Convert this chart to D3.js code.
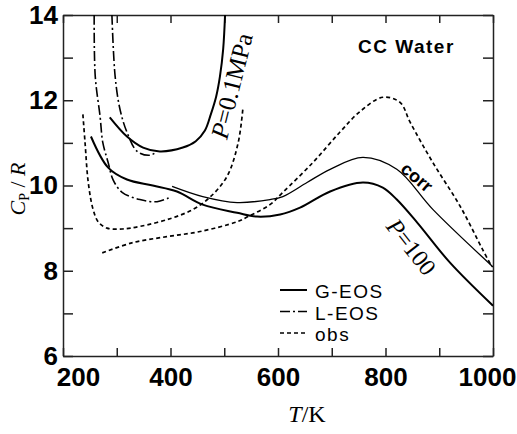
<!DOCTYPE html>
<html>
<head>
  <meta charset="utf-8">
  <title>CC Water Cp/R</title>
  <style>
    body { margin: 0; background: #fff; }
    svg { display: block; }
    .tick text { font-family: 'Liberation Sans', Arial, sans-serif; font-weight: bold; font-size: 26px; fill: #000; }
    .tick line, .domain { stroke: #222; stroke-width: 1.5px; }
    .serif { font-family: 'Liberation Serif', 'Times New Roman', serif; fill: #000; }
    .sans { font-family: 'Liberation Sans', Arial, sans-serif; fill: #000; }
  </style>
  <script src="https://cdn.jsdelivr.net/npm/d3@7"></script>
</head>
<body>
<svg id="chart" width="517" height="434"></svg>
<script>
// axis ticks
var tLabels = [200, 400, 600, 800, 1000];
var cpLabels = [6, 8, 10, 12, 14];

// G-EOS, P = 0.1 MPa
var gEos01T  = [287, 319, 349, 380, 423, 447, 464, 475, 485, 492, 498, 501.5];
var gEos01Cp = [11.6, 11.15, 10.89, 10.8, 10.89, 11.04, 11.29, 11.67, 12.09, 12.56, 13.2, 14.0];
// G-EOS, P = 100 MPa
var gEos100T  = [252, 284, 319, 367, 412, 460, 524, 561, 604, 641, 697, 758, 795, 821, 859, 920, 1000];
var gEos100Cp = [11.15, 10.42, 10.14, 10.0, 9.86, 9.55, 9.36, 9.27, 9.32, 9.48, 9.86, 10.07, 9.95, 9.67, 9.13, 8.19, 7.18];
// corrected G-EOS, P = 100
var corrT  = [403, 460, 524, 585, 609, 654, 697, 758, 821, 888, 1000];
var corrCp = [9.98, 9.74, 9.6, 9.67, 9.74, 10.07, 10.38, 10.66, 10.38, 9.44, 8.09];
// L-EOS
var lEos01T  = [291, 297, 306, 319, 338, 362, 375];
var lEos01Cp = [14.0, 12.56, 11.79, 11.25, 10.8, 10.71, 10.8];
var lEos100T  = [258, 260, 269, 274, 284, 293, 310, 343, 375, 399];
var lEos100Cp = [14.0, 12.56, 11.62, 11.01, 10.54, 10.14, 9.84, 9.67, 9.62, 9.72];
// observed
var obs01T  = [237, 241, 247, 256, 266, 282, 310, 343, 399, 442, 473, 505, 526, 535];
var obs01Cp = [11.67, 11.01, 10.07, 9.44, 9.14, 9.0, 8.98, 9.04, 9.22, 9.44, 9.72, 10.21, 11.01, 11.85];
var obs100T  = [273, 330, 393, 455, 524, 544, 585, 609, 665, 715, 753, 795, 827, 846, 888, 939, 981, 998];
var obs100Cp = [8.42, 8.66, 8.8, 8.92, 9.15, 9.27, 9.55, 9.84, 10.54, 11.25, 11.74, 12.07, 11.95, 11.48, 10.54, 9.51, 8.49, 8.09];

var legendNames = ['G-EOS', 'L-EOS', 'obs'];

var svg = d3.select('#chart');
var pLeft = 63, pRight = 493, pTop = 15, pBottom = 356;

var x = d3.scaleLinear().domain([200, 1000]).range([pLeft, pRight]);
var y = d3.scaleLinear().domain([6, 14]).range([pBottom, pTop]);

var minorT = d3.range(200, 1001, 100);
var minorCp = d3.range(6, 14.5, 1);

// axes, ticks pointing in
var xb = svg.append('g').attr('transform', 'translate(0,' + pBottom + ')')
  .call(d3.axisBottom(x).tickValues(minorT).tickSize(-8).tickSizeOuter(0).tickPadding(12)
    .tickFormat(function (d) { return tLabels.indexOf(d) >= 0 ? d : ''; }));
xb.selectAll('.tick text').attr('dx', function (d) { return d == 200 ? 15 : d == 1000 ? -6 : 0; });

svg.append('g').attr('transform', 'translate(0,' + pTop + ')')
  .call(d3.axisTop(x).tickValues(minorT).tickSize(-8).tickSizeOuter(0).tickFormat(''));

svg.append('g').attr('transform', 'translate(' + pLeft + ',0)')
  .call(d3.axisLeft(y).tickValues(minorCp).tickSize(-10).tickSizeOuter(0).tickPadding(5)
    .tickFormat(function (d) { return cpLabels.indexOf(d) >= 0 ? d : ''; }));

svg.append('g').attr('transform', 'translate(' + pRight + ',0)')
  .call(d3.axisRight(y).tickValues(minorCp).tickSize(-10).tickSizeOuter(0).tickFormat(''));

svg.selectAll('.domain').attr('fill', 'none');

svg.append('clipPath').attr('id', 'clip')
  .append('rect').attr('x', pLeft).attr('y', pTop).attr('width', pRight - pLeft).attr('height', pBottom - pTop);

var line = d3.line()
  .x(function (d) { return x(d[0]); })
  .y(function (d) { return y(d[1]); })
  .curve(d3.curveCatmullRom.alpha(0.5));

function pts(t, c) { return t.map(function (v, i) { return [v, c[i]]; }); }

var styles = {
  g: { w: 2.0, dash: null },
  corr: { w: 1.3, dash: null },
  l: { w: 1.6, dash: '10,3,2,3' },
  o: { w: 1.7, dash: '4,3' }
};

var curves = [
  [pts(gEos01T, gEos01Cp), 'g'],
  [pts(gEos100T, gEos100Cp), 'g'],
  [pts(corrT, corrCp), 'corr'],
  [pts(lEos01T, lEos01Cp), 'l'],
  [pts(lEos100T, lEos100Cp), 'l'],
  [pts(obs01T, obs01Cp), 'o'],
  [pts(obs100T, obs100Cp), 'o']
];

var plot = svg.append('g').attr('clip-path', 'url(#clip)');
plot.selectAll('path').data(curves).enter().append('path')
  .attr('d', function (d) { return line(d[0]); })
  .attr('fill', 'none')
  .attr('stroke', '#000')
  .attr('stroke-width', function (d) { return styles[d[1]].w; })
  .attr('stroke-dasharray', function (d) { return styles[d[1]].dash; });

// legend
var legKeys = ['g', 'l', 'o'];
var leg = svg.append('g');
legendNames.forEach(function (name, i) {
  var by = 298 + i * 21.5;
  leg.append('line').attr('x1', 280).attr('x2', 307).attr('y1', by - 8).attr('y2', by - 8)
    .attr('stroke', '#000').attr('stroke-width', styles[legKeys[i]].w)
    .attr('stroke-dasharray', styles[legKeys[i]].dash);
  leg.append('text').attr('class', 'sans').attr('x', 315).attr('y', by)
    .attr('font-size', 19).attr('letter-spacing', 1.5).text(name);
});

// labels
svg.append('text').attr('class', 'sans').attr('x', 358).attr('y', 53)
  .attr('font-size', 19).attr('font-weight', 'bold').attr('letter-spacing', 1.5).text('CC Water');

svg.append('text').attr('class', 'sans').attr('font-size', 18).attr('font-weight', 'bold')
  .attr('text-anchor', 'middle').attr('transform', 'translate(413,182) rotate(40)').text('corr');

var lab1 = svg.append('text').attr('class', 'serif').attr('font-size', 25).attr('text-anchor', 'middle')
  .attr('transform', 'translate(240,88) rotate(-76)');
lab1.append('tspan').attr('font-style', 'italic').text('P');
lab1.append('tspan').text('=0.1MPa');

var lab2 = svg.append('text').attr('class', 'serif').attr('font-size', 24).attr('text-anchor', 'middle')
  .attr('transform', 'translate(405,252) rotate(52)');
lab2.append('tspan').attr('font-style', 'italic').text('P');
lab2.append('tspan').text('=100');

var yl = svg.append('text').attr('class', 'serif').attr('font-size', 22).attr('text-anchor', 'middle')
  .attr('transform', 'translate(25,189) rotate(-90)');
yl.append('tspan').attr('font-style', 'italic').text('C');
yl.append('tspan').attr('font-size', 14).attr('dy', 4).text('P');
yl.append('tspan').attr('dy', -4).text(' / ');
yl.append('tspan').attr('font-style', 'italic').text('R');

var xl = svg.append('text').attr('class', 'serif').attr('font-size', 24).attr('text-anchor', 'middle')
  .attr('x', 307).attr('y', 422);
xl.append('tspan').attr('font-style', 'italic').text('T');
xl.append('tspan').text('/K');
</script>
</body>
</html>
